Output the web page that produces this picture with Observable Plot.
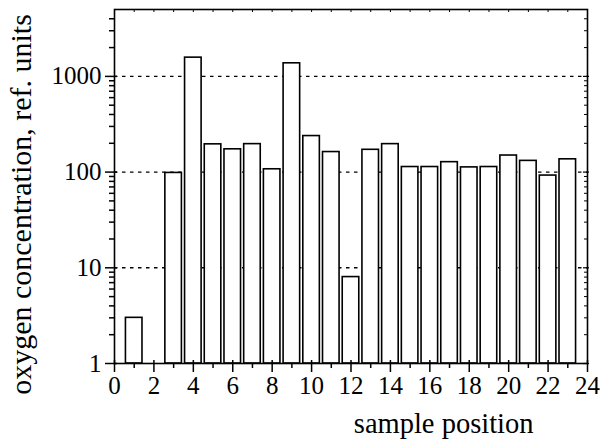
<!DOCTYPE html>
<html>
<head>
<meta charset="utf-8">
<script src="https://cdn.jsdelivr.net/npm/d3@7"></script>
<script src="https://cdn.jsdelivr.net/npm/@observablehq/plot@0.6"></script>
<style>
  html, body { margin: 0; padding: 0; background: #fff; }
</style>
</head>
<body>
<div id="chart"></div>
<script>
// sample positions and oxygen concentrations (ref. units)
const positions = [1, 3, 4, 5, 6, 7, 8, 9, 10, 11, 12, 13, 14, 15, 16, 17, 18, 19, 20, 21, 22, 23];
const concentrations = [3, 98, 1570, 195, 173, 196, 107, 1370, 238, 162, 8, 171, 196, 113, 113, 127, 112, 113, 149, 131, 92, 136];

const xTickLabels = [0, 2, 4, 6, 8, 10, 12, 14, 16, 18, 20, 22, 24];
const xMinorTicks = [1, 3, 5, 7, 9, 11, 13, 15, 17, 19, 21, 23];
const yTickLabels = [1, 10, 100, 1000];
const yMinorTicks = [2, 3, 4, 5, 6, 7, 8, 9, 20, 30, 40, 50, 60, 70, 80, 90,
  200, 300, 400, 500, 600, 700, 800, 900, 2000, 3000, 4000];
const gridValues = [10, 100, 1000];

const xTitle = "sample position";
const yTitle = "oxygen concentration, ref. units";

const data = positions.map((p, i) => ({pos: p, value: concentrations[i]}));

const W = 600, H = 439;
const mL = 114, mR = 13, mT = 9, mB = 76;
const plotH = H - mT - mB, plotW = W - mL - mR;
const serif = "'Liberation Serif', 'Times New Roman', serif";

const chart = Plot.plot({
  width: W,
  height: H,
  marginLeft: mL,
  marginRight: mR,
  marginTop: mT,
  marginBottom: mB,
  style: {fontFamily: serif, fontSize: "25px", color: "#000", background: "#fff"},
  x: {type: "linear", domain: [0, 24], axis: null},
  y: {type: "log", domain: [1, 5000], axis: null},
  marks: [
    Plot.ruleY(gridValues, {y: d => d, stroke: "#000", strokeWidth: 1.4, strokeDasharray: "3.5,4.5"}),
    Plot.rect(data, {x1: d => d.pos - 0.42, x2: d => d.pos + 0.42, y1: 1, y2: "value",
      fill: "#fff", stroke: "#000", strokeWidth: 1.6}),
    Plot.frame({stroke: "#000", strokeWidth: 1.6}),
    // bottom ticks (major cross the axis, minor outward)
    Plot.tickX(xTickLabels, {x: d => d, insetTop: plotH - 3, insetBottom: -9, stroke: "#000", strokeWidth: 1.5, clip: false}),
    Plot.tickX(xMinorTicks, {x: d => d, insetTop: plotH, insetBottom: -5, stroke: "#000", strokeWidth: 1.5, clip: false}),
    // top ticks inward
    Plot.tickX(xTickLabels.concat(xMinorTicks), {x: d => d, insetBottom: plotH - 3, stroke: "#000", strokeWidth: 1}),
    // left ticks
    Plot.tickY(yTickLabels, {y: d => d, insetRight: plotW - 3, insetLeft: -9, stroke: "#000", strokeWidth: 1.5, clip: false}),
    Plot.tickY(yMinorTicks, {y: d => d, insetRight: plotW, insetLeft: -5, stroke: "#000", strokeWidth: 1.5, clip: false}),
    // right ticks inward
    Plot.tickY(yTickLabels, {y: d => d, insetLeft: plotW - 4, insetRight: -2, stroke: "#000", strokeWidth: 1.2}),
    Plot.tickY(yMinorTicks, {y: d => d, insetLeft: plotW - 3, stroke: "#000", strokeWidth: 1}),
    // tick labels
    Plot.text(xTickLabels, {x: d => d, text: d => String(d), frameAnchor: "bottom", lineAnchor: "top",
      dy: 13, fontSize: 25, fontFamily: serif, fill: "#000"}),
    Plot.text(yTickLabels, {y: d => d, text: d => String(d), frameAnchor: "left", textAnchor: "end",
      lineAnchor: "middle", dx: -13, fontSize: 25, fontFamily: serif, fill: "#000"}),
    // axis titles
    Plot.text([xTitle], {frameAnchor: "bottom-right", textAnchor: "end", lineAnchor: "middle", dx: -54, dy: 60,
      fontSize: 28.5, fontFamily: serif, fill: "#000"}),
    Plot.text([yTitle], {frameAnchor: "left", textAnchor: "middle", lineAnchor: "middle", rotate: -90, dx: -93, dy: 18,
      fontSize: 30, fontFamily: serif, fill: "#000"})
  ]
});

document.getElementById("chart").appendChild(chart);
</script>
</body>
</html>
